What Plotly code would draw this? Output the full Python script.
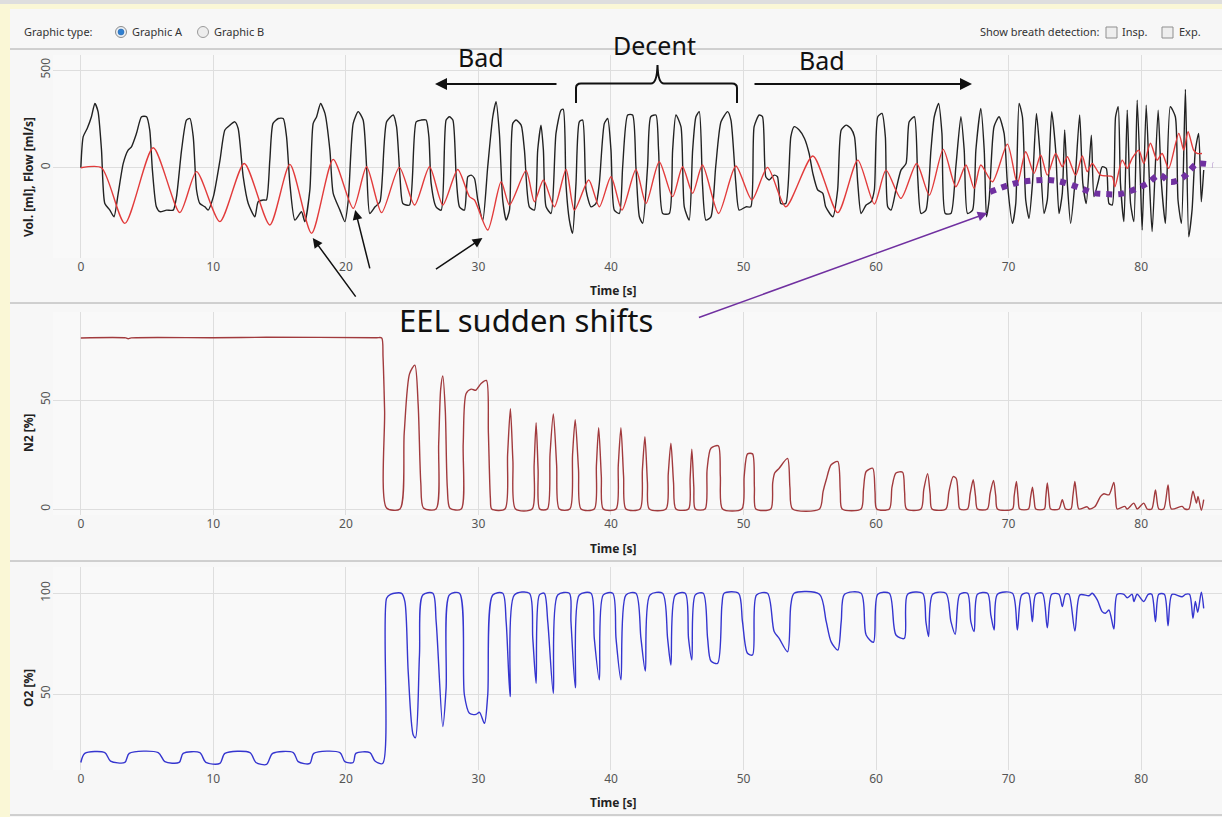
import plotly.graph_objects as go

W, H = 1222, 817


def px(x):
    """canvas pixel column -> paper x"""
    return x / W


def py(y):
    """canvas pixel row -> paper y"""
    return 1 - y / H


# ---------------------------------------------------------------- data
time_ticks = [0, 10, 20, 30, 40, 50, 60, 70, 80]

# Flow [ml/s] (black trace, top panel)
flow_t = [0, 0.18, 0.48, 0.8, 1.06, 1.3, 1.56, 1.81, 2.19, 2.5, 2.82, 3.2, 3.57, 3.82, 4.2, 4.58,
          4.96, 5.2, 5.4, 5.7, 5.96, 6.47, 6.97, 7.22, 7.6, 7.97, 8.23, 8.48, 8.73, 8.98, 9.36, 9.6,
          10.0, 10.5, 10.87, 11.25, 11.62, 11.87, 12.25, 12.63, 13.13, 13.38, 13.76, 14.0, 14.26,
          14.5, 14.9, 15.27, 15.52, 15.77, 16.15, 16.65, 16.9, 17.28, 17.53, 17.79, 18.09, 18.42,
          18.79, 19.04, 19.55, 19.92, 20.18, 20.55, 20.93, 21.3, 21.56, 21.8, 22.2, 22.57, 23.07,
          23.57, 23.82, 24.08, 24.3, 24.8, 25.3, 25.68, 26.05, 26.26, 26.43, 26.8, 27.19, 27.56,
          27.81, 28.07, 28.32, 28.57, 28.94, 29.2, 29.45, 29.7, 29.95, 30.33, 30.7, 31.08, 31.33,
          31.58, 31.83, 32.09, 32.34, 32.59, 32.84, 33.22, 33.47, 33.84, 34.22, 34.47, 34.72, 34.9,
          35.1, 35.48, 35.85, 36.23, 36.4, 36.6, 36.86, 37.1, 37.36, 37.61, 37.86, 38.12, 38.49,
          38.87, 39.12, 39.5, 39.75, 40.0, 40.25, 40.63, 40.88, 41.26, 41.63, 41.88, 42.14, 42.39,
          42.76, 43.0, 43.39, 43.59, 43.9, 44.4, 44.65, 44.9, 45.28, 45.53, 45.9, 46.16, 46.41,
          46.66, 46.9, 47.16, 47.54, 47.9, 48.3, 48.8, 49.05, 49.42, 49.67, 50.18, 50.55, 50.8,
          51.18, 51.43, 51.68, 51.93, 52.31, 52.56, 52.81, 53.19, 53.57, 53.82, 54.2, 54.6, 54.95,
          55.23, 55.6, 55.98, 56.2, 56.74, 57.1, 57.37, 57.74, 58.1, 58.37, 58.62, 58.87, 59.25,
          59.62, 59.87, 60.13, 60.45, 60.7, 60.88, 61.13, 61.5, 61.88, 62.26, 62.5, 62.89, 63.14,
          63.39, 63.76, 64.14, 64.39, 64.72, 64.97, 65.22, 65.65, 66.02, 66.4, 66.65, 66.9, 67.28,
          67.53, 67.9, 68.16, 68.33, 68.53, 68.9, 69.28, 69.66, 69.91, 70.29, 70.54, 70.79, 71.04,
          71.29, 71.54, 71.8, 72.1, 72.35, 72.67, 72.92, 73.25, 73.55, 73.8, 74.05, 74.23, 74.43,
          74.68, 75.0, 75.36, 75.6, 75.86, 76.24, 76.44, 76.76, 77.06, 77.37, 77.57, 77.82, 78.07,
          78.27, 78.44, 78.7, 78.95, 79.2, 79.45, 79.7, 79.95, 80.08, 80.38, 80.63, 80.83, 81.28,
          81.53, 81.83, 82.2, 82.58, 82.78, 83.04, 83.34, 83.59, 83.84, 84.09, 84.34, 84.54, 84.72]
flow_v = [0, 159, 201, 261, 329, 287, 90, -183, -217, -251, -131, 22, 90, 107, 176, 261,
          261, 193, -12, -200, -225, -217, -217, -148, 90, 244, 252, 159, -114, -183, -200, -217,
          -148, 39, 193, 218, 235, 201, -46, -183, -251, -174, -165, -165, 39,
          227, 252, 252, 159, -80, -268, -225, -276, -114, 227, 261, 329, 278,
          90, -131, -217, -276, -165, 227, 287, 244, 5, -234, -200, -174, 235,
          270, 210, -46, -183, -191, 235, 244, 244, 159, -80, -200, -217, 244,
          261, 244, -46, -200, -217, -46, -38, -55, -165, -268, 5, 261, 338,
          176, -165, -268, -217, 227, 244, 218, 90, -200, -217, 90, 218, 90,
          -200, -234, 176, 295, 299, -80, -268, -336, -80, 235, 244, -114, -200,
          -183, -80, 227, 252, 90, -217, -234, 5, 270, 270, 5, -251, -285,
          5, 261, 270, 90, -234, -234, 90, 270, 210, -200, -268, 90, 261,
          287, -80, -268, -251, 5, 235, 287, 244, -80, -217, -200, -200, 210,
          270, 261, -46, -63, -38, -46, -183, -183, 159, 210, 193, 150, 73,
          -29, -114, -131, -200, -251, -114, 193, 218, 201, 159, -80, -234, -191,
          -174, -114, 261, 278, 159, -200, -217, -114, -12, 22, 235, 261, -46,
          -234, -217, 90, 261, 329, 176, -234, -234, 5, 261, 90, -234, -217,
          90, 304, 90, -251, -165, 210, 261, 176, -80, -285, -183, 329, 261,
          -165, -259, -80, 278, 90, -234, -165, 287, 90, -234, -131, 193, -80,
          -285, -80, 270, -80, -183, 167, -148, -72, 5, -3, -183, -191, 261,
          312, -80, -276, 295, -183, -276, 346, -80, -319, 320, -80, -327, 295,
          -80, -285, 312, 261, -165, -285, 401, -353, -217, 90, 176, -174, -12]

# Volume [ml] (red trace, top panel)
vol_t = [0, 1.56, 3.32, 5.46, 7.47, 8.73, 10.49, 12.33, 14.26, 15.77, 17.41, 19.04, 20.55, 21.56,
         22.69, 24.03, 25.18, 26.31, 27.31, 28.44, 29.32, 29.7, 30.7, 31.71, 32.34, 33.59, 34.22,
         34.9, 35.73, 36.61, 37.24, 38.32, 39.12, 40.0, 40.83, 41.88, 42.64, 43.64, 44.65, 45.4,
         46.16, 46.9, 48.12, 49.42, 50.63, 51.81, 53.19, 55.23, 57.11, 58.62, 59.87, 60.75, 61.88,
         63.06, 64.02, 65.07, 66.02, 66.78, 67.4, 67.9, 68.78, 69.91, 70.66, 71.29, 71.92, 72.42,
         72.92, 73.55, 74.05, 74.43, 75.06, 75.56, 75.93, 76.31, 76.94, 77.82, 78.02, 78.57, 78.95,
         79.32, 79.82, 80.2, 80.7, 81.2, 81.58, 82.08, 82.84, 83.21, 83.54, 83.96, 84.22, 84.59]
vol_v = [0, 0, -285, 102, -229, -20, -276, 22, -293, 17, -336, 43, -208, 5,
         -230, 2, -191, 5, -191, -9, -148, -165, -319, -72, -191, -15, -174,
         -63, -200, -9, -217, -63, -200, -46, -217, -9, -183, 31, -148, 5,
         -131, 14, -234, 9, -165, 2, -200, 60, -230, 39, -186, -12, -157,
         22, -140, 94, -97, 14, -106, 14, -72, 121, -80, 82, -29, 65,
         -38, 73, 5, 56, -38, 60, -20, 22, -38, -46, -97, 39, -3,
         48, 90, 22, 125, 39, 73, -3, 176, 90, 184, 90, 73, 73]

# Hand-drawn end-expiratory level trend (purple dots, top panel)
eel_t = [68.6, 70.6, 72.6, 73.7, 75.4, 76.4, 77.4, 78.4, 79.4, 80.5, 81.4, 82.2, 83.2, 83.7, 84.2, 85.4]
eel_v = [-124, -78, -63, -68, -104, -129, -135, -135, -114, -78, -37, -73, -48, -12, 19, 14]

# N2 [%] (middle panel)
n2_t = [0, 3.4, 3.57, 3.8, 10, 14, 22.3, 22.7, 22.8, 22.92, 23.07, 24.08, 24.4, 24.8, 25.2, 25.45,
        25.65, 25.85,
        26.8, 27.0, 27.15, 27.31, 27.5, 27.65, 27.85, 28.7, 28.85, 29.07, 29.45, 29.8, 30.0, 30.2,
        30.6, 30.75, 30.9, 31.0, 32.0, 32.2, 32.41, 32.6, 32.8, 34.05, 34.2, 34.35, 34.5, 34.62,
        35.2, 35.4, 35.65, 35.9, 36.1, 36.9, 37.1, 37.3, 37.55, 37.74, 38.74, 38.9, 39.07, 39.27,
        39.42, 40.38, 40.55, 40.75, 40.95, 41.13, 42.19, 42.37, 42.56, 42.75, 42.89, 44.15, 44.32,
        44.52, 44.72, 44.9, 45.85, 45.97, 46.1, 46.25, 46.36, 47.1, 47.25, 47.54, 48.1, 48.25, 48.42,
        49.87, 50.05, 50.3, 50.68, 50.82, 50.93, 52.06, 52.2, 52.35, 52.69, 53.32, 53.5, 53.7,
        55.73, 56.0, 56.24, 56.61, 57.11, 57.3, 57.44, 58.87, 59.05, 59.25, 59.75, 59.92, 60.05,
        61.0, 61.2, 61.5, 62.0, 62.15, 62.3, 63.39, 63.6, 63.89, 64.08, 64.22, 65.27, 65.5, 65.82,
        66.05, 66.2, 66.32, 66.9, 67.1, 67.33, 67.5, 67.65, 68.4, 68.6, 68.86, 69.03, 69.16, 70.29,
        70.42, 70.59, 70.72, 70.84, 71.5, 71.65, 71.8, 71.93, 72.05, 72.7, 72.8, 72.92, 73.05, 73.17,
        73.8, 74.05, 74.3, 74.7, 74.85, 75.0, 75.15, 75.3, 75.93, 76.1, 76.5, 76.94, 77.19, 77.57,
        77.94, 78.07, 78.19, 78.77, 78.95, 79.45, 79.7, 80.2, 80.45, 80.8, 81.08, 81.33, 81.7, 82.03,
        82.28, 83.09, 83.3, 83.6, 83.91, 84.17, 84.29, 84.54, 84.72]
n2_v = [78.5, 78.5, 78.1, 78.5, 78.6, 78.8, 78.6, 78.5, 70, 45, 0.5, 0, 35, 62, 66, 48,
        12, 0.5,
        0, 30, 55, 61, 45, 10, 0.3, 0, 30, 53, 55, 54.5, 56, 57.6,
        59, 35, 5, 0, 0, 25, 46, 22, 0, 0, 20, 39.6, 18, 0,
        0, 25, 43.6, 20, 0, 0, 25, 41, 18, 0, 0, 20, 37.3, 15,
        0, 0, 20, 37.3, 15, 0, 0, 18, 33.2, 12, 0, 0, 16,
        30.2, 12, 0, 0, 14, 27.4, 10, 0, 0, 18, 27.9, 29, 15, 0,
        0, 15, 25.3, 25.3, 10, 0, 0, 12, 16.5, 18.7, 23.2, 10, 0,
        0, 8, 13.4, 20.3, 21.8, 8, 0, 0, 9, 17.2, 18.7, 8, 0,
        0, 10, 16.5, 16.9, 8, 0, 0, 9, 16.2, 7, 0, 0, 8, 14.9,
        14, 6, 0, 0, 7, 13.4, 6, 0, 0, 7, 13.1, 6, 0, 0,
        6, 12.6, 5, 0, 0, 5, 10, 4, 0, 0, 5, 11.9, 5, 0,
        0, 4.3, 0, 0, 6, 12.6, 5, 0, 1, 0, 1, 5.8, 7, 6.5,
        12.2, 5, 0, 1.2, 0, 2.7, 0, 2.7, 0, 0, 8.8, 0, 0, 11,
        0, 1.2, 0, 0, 8.2, 2.7, 5.8, -0.6, 4.3]

# O2 [%] (bottom panel)
o2_t = [0, 0.3, 1.81, 2.24, 3.32, 3.65, 5.84, 6.34, 7.42, 7.72, 8.98, 9.43, 10.49, 10.87, 12.76,
        13.21, 14.01, 14.47, 16.03, 16.4, 17.28, 17.58, 19.55, 19.92, 20.55, 20.75, 21.81, 22.19,
        22.77, 23.07, 23.37, 24.2, 24.45, 24.7, 25.08, 25.25, 25.55, 25.8, 26.56, 26.81, 27.31,
        27.56, 27.81, 28.57, 28.94, 29.32, 29.82, 30.08, 30.45, 30.7, 31.08, 31.83, 32.09, 32.39,
        32.71, 33.84, 34.1, 34.35, 34.6, 34.97, 35.23, 35.65, 35.98, 36.86, 36.98, 37.31, 37.61,
        38.49, 38.74, 39.12, 39.42, 40.13, 40.38, 40.75, 41.13, 41.88, 42.26, 42.59, 42.94, 43.89,
        44.27, 44.52, 44.85, 45.6, 45.85, 46.1, 46.36, 46.96, 47.29, 47.54, 48.04, 48.37, 48.54,
        49.62, 49.92, 50.3, 50.68, 50.98, 51.81, 52.31, 52.69, 53.32, 53.57, 53.82, 55.73, 56.24,
        56.61, 57.11, 57.37, 57.62, 58.87, 59.25, 59.8, 60.13, 61.0, 61.5, 62.13, 62.38, 63.51,
        63.76, 63.96, 64.27, 65.27, 65.65, 65.97, 66.32, 66.9, 67.15, 67.4, 67.65, 68.41, 68.66,
        68.91, 69.16, 70.29, 70.66, 70.99, 71.49, 71.79, 72.05, 72.55, 72.92, 73.25, 73.8, 74.05,
        74.3, 74.55, 75.0, 75.38, 76.06, 76.31, 76.69, 77.06, 77.31, 77.57, 77.94, 78.19, 78.7,
        78.95, 79.32, 79.45, 79.7, 80.2, 80.53, 80.8, 81.08, 81.33, 81.75, 82.03, 82.33, 83.09,
        83.34, 83.65, 83.91, 84.09, 84.27, 84.54, 84.72]
o2_v = [16, 20.5, 20.9, 16.7, 16, 20.5, 20.9, 16.4, 16, 20.5, 20.9, 16, 15.5, 20.5, 20.9,
        16, 15, 20.5, 20.9, 16.4, 15.5, 20.5, 20.9, 16.4, 16, 20.5, 20.9, 16.7,
        15.5, 97.5, 99.5, 100, 95.9, 61, 29.6, 28.3, 69.4, 99.2, 100, 85.9, 33.8,
        52.8, 99.2, 100, 49.5, 40.4, 39.9, 40.9, 35.4, 49.5, 99.2, 100, 85.9, 48.7,
        99.2, 100, 77.6, 55.3, 99.2, 100, 85.9, 50.3, 99.2, 100, 85.9, 53.1, 99.2,
        100, 77.6, 57, 99.2, 100, 77.6, 57, 99.2, 100, 77.6, 61.4, 99.2, 100,
        77.6, 64.4, 99.2, 100, 77.6, 66.9, 99.2, 100, 77.6, 66.4, 65.2, 94.2, 100,
        100, 85.9, 70.2, 69.4, 99.2, 100, 81, 77.6, 71, 94.2, 100, 99.5, 85.9,
        75.9, 71.8, 85.9, 99.5, 100, 79.3, 75.7, 99.5, 100, 79.3, 77.6, 99.5, 100,
        85.9, 78.5, 99.5, 100, 85.9, 79.6, 99.5, 100, 85.9, 81, 99.5, 100, 89.2,
        81.8, 99.5, 100, 81.8, 99.2, 100, 85.9, 99.5, 100, 82.9, 99.5, 99.5, 93.4,
        99.5, 99.5, 81.3, 99.2, 98.8, 100, 96.7, 90.9, 90.1, 91.7, 82.3, 99.5, 99.5,
        97.8, 99.5, 95.9, 99.5, 95.9, 99.5, 99.5, 85.9, 99.5, 99.5, 83.9, 99.5, 98.3,
        99.5, 99.5, 87.6, 95.9, 90.6, 100.5, 92.5]

# ---------------------------------------------------------------- figure
fig = go.Figure()


def trace(x, y, ax, color, width=1.4, smoothing=0.6):
    fig.add_trace(go.Scatter(
        x=x, y=y, xaxis="x" + ax, yaxis="y" + ax, mode="lines", hoverinfo="skip",
        line=dict(color=color, width=width, shape="spline", smoothing=smoothing),
        showlegend=False))


trace(flow_t, flow_v, "", "#222222")
trace(vol_t, vol_v, "", "#e23b3b", smoothing=0.7)
fig.add_trace(go.Scatter(x=eel_t, y=eel_v, xaxis="x", yaxis="y", mode="lines", hoverinfo="skip",
                         line=dict(color="#7030a0", width=6, dash="dot", shape="spline"),
                         showlegend=False))
trace(n2_t, n2_v, "2", "#a13a3d", smoothing=0.75)
trace(o2_t, o2_v, "3", "#3535cf", smoothing=0.8)

tick_font = dict(family="Noto Sans", size=12, color="#555555")
grid = "#dedede"
x_dom = [px(53), 1.0]
x_rng = [-2.1, 86.1]

panels = {
    "": dict(dom=[py(258), py(55)], rng=[-462, 577], ticks=[-500, 0, 500]),
    "2": dict(dom=[py(515), py(312)], rng=[-2.75, 90.4], ticks=[0, 50]),
    "3": dict(dom=[py(770), py(567)], rng=[12.26, 113.06], ticks=[50, 100]),
}

layout_axes = {}
for k, p in panels.items():
    layout_axes["xaxis" + k] = dict(
        domain=x_dom, range=x_rng, anchor="y" + k, tickvals=time_ticks, ticks="",
        showgrid=True, gridcolor=grid, gridwidth=1, zeroline=False, showline=False,
        tickfont=tick_font, automargin=False, fixedrange=True)
    layout_axes["yaxis" + k] = dict(
        domain=p["dom"], range=p["rng"], anchor="x" + k, tickvals=p["ticks"], ticks="",
        tickangle=-90, showgrid=True, gridcolor=grid, gridwidth=1, zeroline=False,
        showline=False, tickfont=tick_font, automargin=False, fixedrange=True)

shapes = [
    # window chrome
    dict(type="rect", xref="paper", yref="paper", x0=0, x1=1, y0=py(4), y1=1,
         fillcolor="#dedede", line_width=0, layer="below"),
    dict(type="rect", xref="paper", yref="paper", x0=0, x1=1, y0=py(9), y1=py(4),
         fillcolor="#faf7d6", line_width=0, layer="below"),
    dict(type="rect", xref="paper", yref="paper", x0=0, x1=px(10), y0=0, y1=py(4),
         fillcolor="#faf7d6", line_width=0, layer="below"),
]
for yy in (49, 303, 561, 815):
    shapes.append(dict(type="line", xref="paper", yref="paper", x0=px(10), x1=1,
                       y0=py(yy), y1=py(yy), line=dict(color="#a8a8a8", width=1)))

# radio buttons
shapes += [
    dict(type="circle", xref="paper", yref="paper", x0=px(115.5), x1=px(126.5),
         y0=py(37.5), y1=py(26.5), fillcolor="#e9eef3", line=dict(color="#8c8c8c", width=1)),
    dict(type="circle", xref="paper", yref="paper", x0=px(118), x1=px(124),
         y0=py(35), y1=py(29), fillcolor="#2f7fd0", line=dict(color="#1e5fa8", width=0.5)),
    dict(type="circle", xref="paper", yref="paper", x0=px(197.5), x1=px(208.5),
         y0=py(37.5), y1=py(26.5), fillcolor="#ededed", line=dict(color="#9a9a9a", width=1)),
]
# check boxes
for x0 in (1106, 1162):
    shapes.append(dict(type="rect", xref="paper", yref="paper", x0=px(x0), x1=px(x0 + 11),
                       y0=py(38), y1=py(27), fillcolor="#eeeeee",
                       line=dict(color="#8f8f8f", width=1)))

# curly brace over the "Decent" section
brace_pts = [("M", 576, 103), ("L", 576, 88), ("Q", 576, 83.5), ("", 581, 83.5), ("L", 651, 83.5),
             ("Q", 657, 83.5), ("", 657.5, 65), ("Q", 658, 83.5), ("", 664, 83.5), ("L", 732, 83.5),
             ("Q", 737, 83.5), ("", 737, 88), ("L", 737, 103)]
path = " ".join(f"{c} {px(x):.5f},{py(y):.5f}" if c else f"{px(x):.5f},{py(y):.5f}"
                for c, x, y in brace_pts)
shapes.append(dict(type="path", xref="paper", yref="paper", path=path,
                   line=dict(color="#111111", width=2)))

ui_font = dict(family="Noto Sans", size=11, color="#333333")
title_font = dict(family="Noto Sans", size=12, color="#222222")
big = dict(family="Noto Sans", size=25, color="#111111")

annotations = [
    dict(text="Graphic type:", x=px(22), y=py(32), xanchor="left", font=ui_font),
    dict(text="Graphic A", x=px(130), y=py(32), xanchor="left", font=ui_font),
    dict(text="Graphic B", x=px(212), y=py(32), xanchor="left", font=ui_font),
    dict(text="Show breath detection:", x=px(1102), y=py(32), xanchor="right", font=ui_font),
    dict(text="Insp.", x=px(1120), y=py(32), xanchor="left", font=ui_font),
    dict(text="Exp.", x=px(1177), y=py(32), xanchor="left", font=ui_font),
    # axis titles
    dict(text="<b>Vol. [ml], Flow [ml/s]</b>", x=px(28), y=py(177), textangle=-90, font=title_font),
    dict(text="<b>N2 [%]</b>", x=px(28), y=py(433), textangle=-90, font=title_font),
    dict(text="<b>O2 [%]</b>", x=px(28), y=py(688), textangle=-90, font=title_font),
    dict(text="<b>Time [s]</b>", x=px(613), y=py(290), font=title_font),
    dict(text="<b>Time [s]</b>", x=px(613), y=py(548), font=title_font),
    dict(text="<b>Time [s]</b>", x=px(613), y=py(802), font=title_font),
    # section labels
    dict(text="Bad", x=px(481), y=py(57), font=big),
    dict(text="Decent", x=px(654), y=py(45), font=big),
    dict(text="Bad", x=px(822), y=py(60), font=big),
    dict(text="EEL sudden shifts", x=px(526), y=py(320),
         font=dict(family="Noto Sans", size=31, color="#111111")),
]
for a in annotations:
    a.setdefault("xref", "paper")
    a.setdefault("yref", "paper")
    a.setdefault("xanchor", "center")
    a.setdefault("yanchor", "middle")
    a.setdefault("showarrow", False)

# horizontal section arrows
annotations += [
    dict(xref="paper", yref="paper", x=px(435), y=py(84), ax=123, ay=0, text="", showarrow=True,
         arrowhead=2, arrowsize=1.2, arrowwidth=2, arrowcolor="#111111"),
    dict(xref="paper", yref="paper", x=px(972), y=py(84), ax=-219, ay=0, text="", showarrow=True,
         arrowhead=2, arrowsize=1.2, arrowwidth=2, arrowcolor="#111111"),
]
# arrows to the sudden shifts of the end-expiratory level
for hx, hy, dx, dy, col in [(17.5, -360, 44, 60, "#111111"), (20.7, -216, 15, 60, "#111111"),
                            (30.3, -360, -48, 32, "#111111"), (68.4, -232, -290, 105, "#7030a0")]:
    annotations.append(dict(xref="x", yref="y", x=hx, y=hy, ax=dx, ay=dy, text="", showarrow=True,
                            arrowhead=2, arrowsize=1.3, arrowwidth=1.5, arrowcolor=col))

fig.update_layout(
    width=W, height=H, margin=dict(l=0, r=0, t=0, b=0, pad=0),
    paper_bgcolor="#f7f7f7", plot_bgcolor="#f9f9f9",
    shapes=shapes, annotations=annotations, showlegend=False,
    **layout_axes,
)

fig.write_html("out.html")
